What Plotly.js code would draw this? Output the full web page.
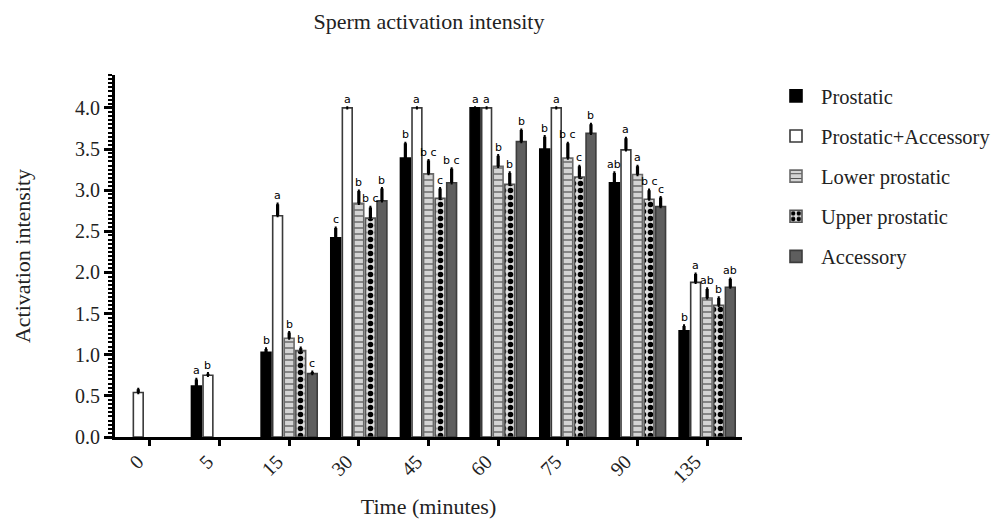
<!DOCTYPE html>
<html>
<head>
<meta charset="utf-8">
<script src="https://cdn.plot.ly/plotly-3.0.1.min.js"></script>
<style>html,body{margin:0;padding:0;background:#fff;}#chart{width:1000px;height:525px;}</style>
</head>
<body>
<div id="chart"></div>
<script>
const categories = ['0', '5', '15', '30', '45', '60', '75', '90', '135'];

const prostatic      = [0, 0.62, 1.03, 2.42, 3.39, 4.00, 3.50, 3.09, 1.29];
const prostaticErr   = [null, 0.08, 0.04, 0.12, 0.18, null, 0.15, 0.12, 0.06];
const prostaticLbl   = ['', 'a', 'b', 'c', 'b', 'a', 'b', 'ab', 'b'];

const prostAcc       = [0.54, 0.75, 2.69, 4.00, 4.00, 4.00, 4.00, 3.49, 1.88];
const prostAccErr    = [0.04, 0.02, 0.14, null, null, null, null, 0.14, 0.10];
const prostAccLbl    = ['', 'b', 'a', 'a', 'a', 'a', 'a', 'a', 'a'];

const lowerProst     = [0, 0, 1.20, 2.84, 3.20, 3.29, 3.39, 3.19, 1.69];
const lowerProstErr  = [null, null, 0.07, 0.15, 0.16, 0.13, 0.18, 0.10, 0.11];
const lowerProstLbl  = ['', '', 'b', 'b', 'b c', 'b', 'b c', 'a', 'ab'];

const upperProst     = [0, 0, 1.05, 2.66, 2.90, 3.07, 3.16, 2.89, 1.60];
const upperProstErr  = [null, null, 0.03, 0.13, 0.12, 0.14, 0.13, 0.11, 0.09];
const upperProstLbl  = ['', '', 'b', 'b c', 'c', 'b', 'c', 'b c', 'b'];

const accessory      = [0, 0, 0.77, 2.87, 3.09, 3.59, 3.69, 2.80, 1.82];
const accessoryErr   = [null, null, 0.02, 0.15, 0.17, 0.14, 0.11, 0.11, 0.10];
const accessoryLbl   = ['', '', 'c', 'b', 'b c', 'b', 'b', 'c', 'ab'];

const seriesNames = ['Prostatic', 'Prostatic+Accessory', 'Lower prostatic', 'Upper prostatic', 'Accessory'];

const BARGAP = 0.17, GROUPGAP = 0.15;

const styles = [
  {color: '#000000', lineColor: '#000000'},
  {color: '#ffffff', lineColor: '#3a3a3a'},
  {color: '#d4d4d4', lineColor: '#6a6a6a',
   pattern: {shape: '-', fgcolor: '#505050', bgcolor: '#d4d4d4', size: 6, solidity: 0.2, fillmode: 'replace'}},
  {color: '#dddddd', lineColor: '#555555',
   pattern: {shape: '.', fgcolor: '#000000', bgcolor: '#dddddd', size: 7, solidity: 0.5, fillmode: 'replace'}},
  {color: '#5e5e5e', lineColor: '#3c3c3c'}
];

const vals = [prostatic, prostAcc, lowerProst, upperProst, accessory];
const errs = [prostaticErr, prostAccErr, lowerProstErr, upperProstErr, accessoryErr];
const lbls = [prostaticLbl, prostAccLbl, lowerProstLbl, upperProstLbl, accessoryLbl];

const traces = vals.map((v, i) => {
  const m = {color: styles[i].color, line: {color: styles[i].lineColor, width: 1.6}};
  if (styles[i].pattern) m.pattern = styles[i].pattern;
  return {
    type: 'bar',
    name: seriesNames[i],
    legendgroup: 'g' + i,
    x: categories,
    // zero values are not drawn as bars (nothing visible in the figure)
    y: v.map(x => x === 0 ? null : x),
    marker: m,
    error_y: {
      type: 'data', symmetric: false,
      array: errs[i],
      arrayminus: errs[i].map(() => 0),
      color: '#000000', thickness: 3.2, width: 1
    },
    hoverinfo: 'x+y+name'
  };
});

const n = vals.length;
const slot = (1 - BARGAP) / n;
const annotations = [];
vals.forEach((v, i) => {
  const off = -(1 - BARGAP) / 2 + (i + 0.5) * slot;
  v.forEach((val, j) => {
    if (!lbls[i][j]) return;
    annotations.push({
      x: j + off, y: val + (errs[i][j] || 0),
      xref: 'x', yref: 'y',
      text: lbls[i][j], showarrow: false,
      yanchor: 'bottom', yshift: 0,
      font: {family: 'DejaVu Sans', size: 11, color: '#000'}
    });
  });
});

const serif = 'Liberation Serif, Times New Roman, serif';

const layout = {
  width: 1000, height: 525,
  paper_bgcolor: '#fff', plot_bgcolor: '#fff',
  margin: {l: 115, r: 258, t: 75, b: 88, autoexpand: false},
  barmode: 'group', bargap: BARGAP, bargroupgap: GROUPGAP,
  title: {text: 'Sperm activation intensity', font: {family: serif, size: 22, color: '#222'},
          x: 429 / 1000, xanchor: 'center', y: 1 - 21 / 525, yanchor: 'middle'},
  xaxis: {
    type: 'category', range: [-0.5, 8.5],
    showline: true, linecolor: '#000', linewidth: 3,
    ticks: 'outside', ticklen: 6, tickwidth: 3, tickcolor: '#000',
    tickangle: -45, tickfont: {family: serif, size: 20, color: '#222'},
    ticklabelshift: -12, ticklabelstandoff: -4,
    showgrid: false, zeroline: false,
    title: {text: 'Time (minutes)', font: {family: serif, size: 22, color: '#222'}, standoff: 13}
  },
  yaxis: {
    range: [0, 4.4], dtick: 0.5, tick0: 0, tickformat: '.1f',
    showline: true, linecolor: '#000', linewidth: 3,
    ticks: 'outside', ticklen: 8, tickwidth: 3, tickcolor: '#000',
    minor: {dtick: 0.05, ticks: 'outside', ticklen: 4, tickwidth: 2, tickcolor: '#000'},
    tickfont: {family: serif, size: 20, color: '#222'},
    showgrid: false, zeroline: false,
    title: {text: 'Activation intensity', font: {family: serif, size: 22, color: '#222'}, standoff: 39}
  },
  legend: {
    xref: 'container', yref: 'container',
    x: 0.771, xanchor: 'left', y: 1 - 76 / 525, yanchor: 'top',
    font: {family: serif, size: 20.5, color: '#222'},
    traceorder: 'grouped', tracegroupgap: 10.5, itemwidth: 40,
    bgcolor: 'rgba(0,0,0,0)'
  },
  annotations: annotations,
  showlegend: true
};

Plotly.newPlot('chart', traces, layout, {displayModeBar: false, staticPlot: true});
</script>
</body>
</html>
